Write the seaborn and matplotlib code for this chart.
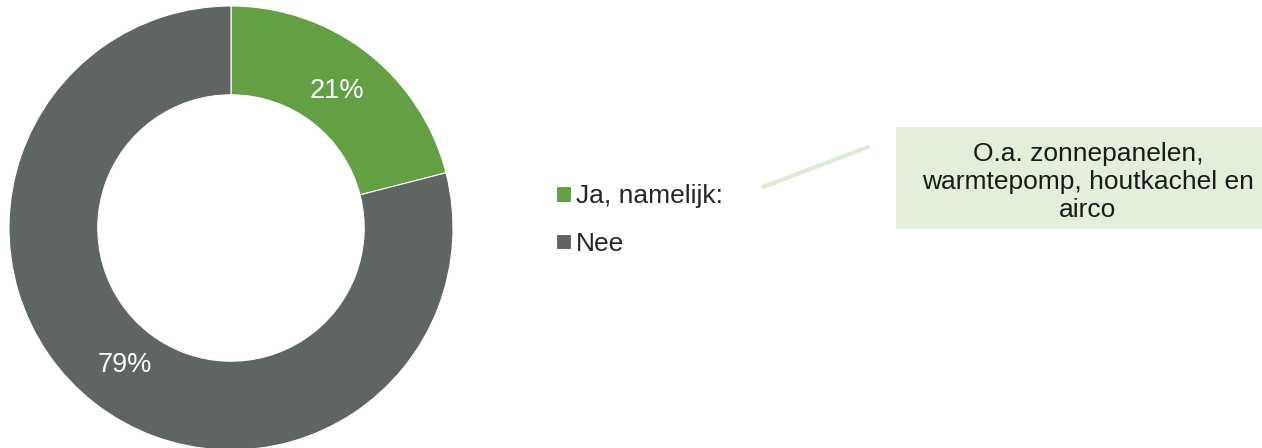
import numpy as np
import seaborn as sns
import matplotlib.pyplot as plt
from matplotlib.patches import Rectangle
from matplotlib.lines import Line2D

# data
categories = ["Ja, namelijk:", "Nee"]
shares = [21, 79]
colors = ["#63A044", "#5E6563"]
note_text = "O.a. zonnepanelen,\nwarmtepomp, houtkachel en\nairco"

sns.set_theme(style="white")
plt.rcParams["font.family"] = ["Liberation Sans", "DejaVu Sans"]

W, H = 1262, 448
fig = plt.figure(figsize=(W / 100, H / 100), dpi=100)

# donut axes in pixel coords: centre (231, 228), radius 222
cx, cy, r = 231, 228, 222
ax = fig.add_axes([(cx - r) / W, (H - cy - r) / H, 2 * r / W, 2 * r / H])
wedges, _, autotexts = ax.pie(
    shares,
    colors=colors,
    startangle=90,
    counterclock=False,
    radius=1,
    autopct=lambda p: f"{p:.0f}%",
    pctdistance=0.78,
    wedgeprops=dict(width=0.4, edgecolor="white", linewidth=0.8),
    textprops=dict(color="white", fontsize=19.5),
)
ax.set_xlim(-1, 1)
ax.set_ylim(-1, 1)
ax.set_aspect("equal")
ax.axis("off")

# legend
fig.legend(
    wedges, categories,
    loc="center left",
    bbox_to_anchor=(543 / W, 1 - 220 / H),
    frameon=False,
    fontsize=19,
    handlelength=0.55,
    handleheight=0.55,
    handletextpad=0.2,
    labelspacing=0.9,
    borderpad=0,
)

# connector line and annotation box
fig.add_artist(Line2D([763 / W, 868 / W], [1 - 187 / H, 1 - 147 / H],
                      color="#DCEBD2", linewidth=3, transform=fig.transFigure))
fig.add_artist(Rectangle((896 / W, 1 - 229 / H), (W - 896) / W, 102 / H,
                         facecolor="#E2EFDA", edgecolor="none",
                         transform=fig.transFigure))
fig.text(1088 / W, 1 - 182 / H, note_text, ha="center", va="center",
         multialignment="center", fontsize=19, color="#1a1a1a",
         linespacing=1.2)

fig.savefig("out.png", dpi=100)
